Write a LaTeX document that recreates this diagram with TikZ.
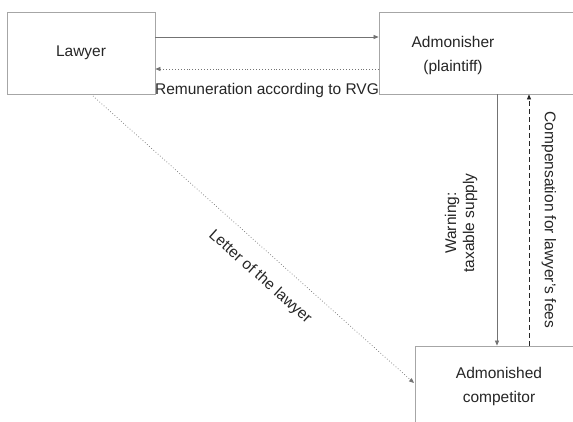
\documentclass[tikz,border=0pt]{standalone}
\usepackage{fontspec}
\setmainfont{Liberation Sans}
\usetikzlibrary{arrows.meta}
\tikzset{
  box/.style={draw=black!35, fill=white, line width=0.8pt, rectangle, inner sep=0pt},
  lbl/.style={font=\fontsize{15.5}{24}\selectfont, align=center, inner sep=0pt, text=black!85},
  conn/.style={draw=black!55, line width=0.7pt, -{Triangle[length=5pt,width=4pt]}},
  dotconn/.style={conn, dash pattern=on 0.7pt off 2.2pt},
  dashconn/.style={conn, draw=black!85, dash pattern=on 5pt off 3pt}
}
\begin{document}
\begin{tikzpicture}[x=1pt,y=-1pt]
\useasboundingbox (0,0) rectangle (573,421);
\clip (0,0) rectangle (573,421);
\fill[white] (0,0) rectangle (573,421);
% boxes
\node[box, minimum width=148pt, minimum height=82pt, lbl] (law) at (81,53) {Lawyer};
\node[box, minimum width=221pt, minimum height=82pt] (adm) at (489.5,53) {};
\node[lbl] (admtext) at (453,55) {Admonisher\\(plaintiff)};
\node[box, minimum width=185pt, minimum height=94pt] (comp) at (507.5,393) {};
\node[lbl] (comptext) at (499,386) {Admonished\\competitor};
% helper coordinates
\coordinate (ya) at (0,37);
\coordinate (yb) at (0,69);
\coordinate (wx) at (497,0);
\coordinate (cx) at (529,0);
\coordinate (d1) at (93,96);
\coordinate (d2) at (414,383);
% connectors
\draw[conn] (law.east |- ya) -- (adm.west |- ya);
\draw[dotconn] (adm.west |- yb) -- (law.east |- yb);
\draw[conn] (adm.south -| wx) -- (comp.north -| wx);
\draw[dashconn] (comp.north -| cx) -- (adm.south -| cx);
\draw[dotconn] (d1) -- (d2);
% labels
\node[lbl] (remlbl) at (267,90) {Remuneration according to RVG};
\node[lbl, rotate=90, font=\fontsize{15.5}{18}\selectfont] (warnlbl) at (461,223) {Warning:\\taxable supply};
\node[lbl, rotate=-90] (complbl) at (549,220) {Compensation for lawyer's fees};
\node[lbl, rotate=-41.8] (letlbl) at (260,277) {Letter of the lawyer};
\end{tikzpicture}
\end{document}
